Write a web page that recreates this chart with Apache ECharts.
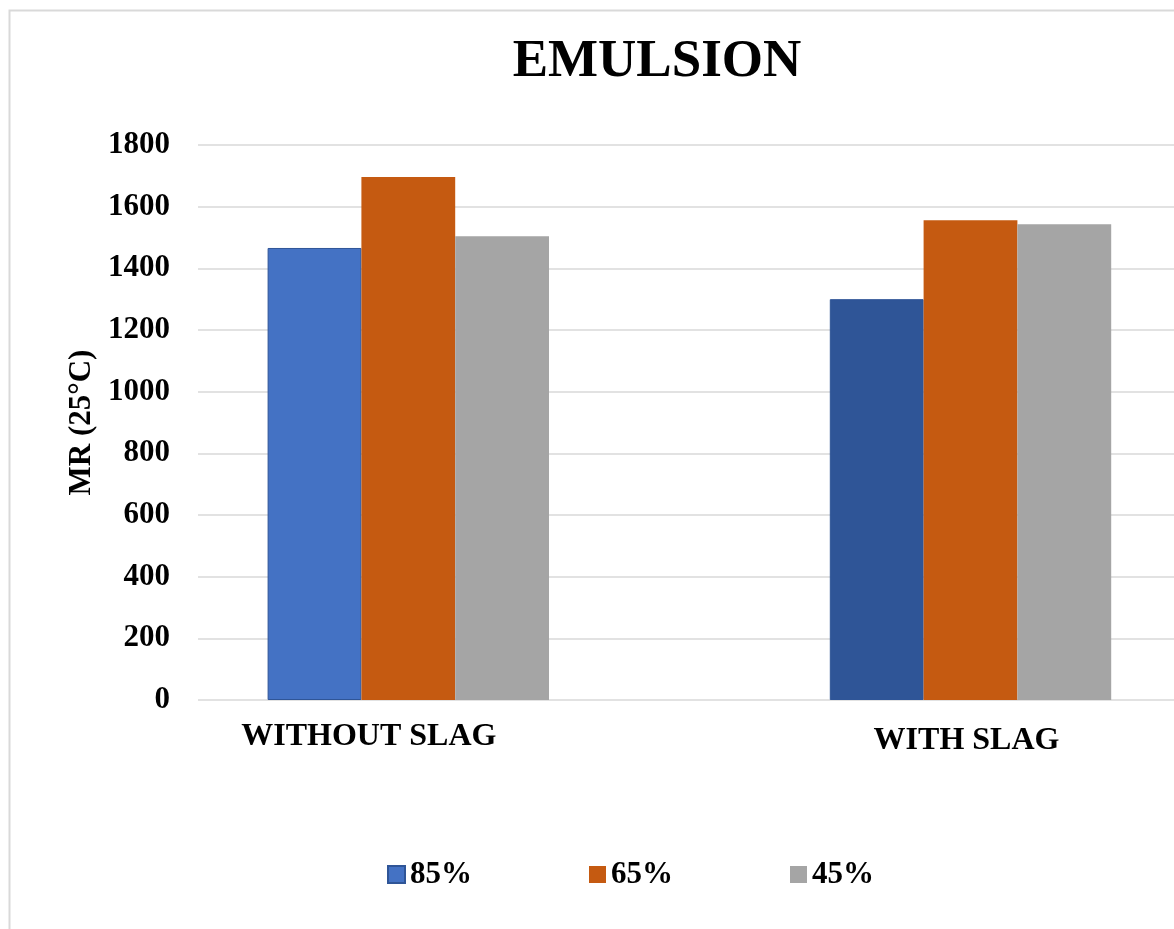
<!DOCTYPE html>
<html>
<head>
<meta charset="utf-8">
<script src="https://cdn.jsdelivr.net/npm/echarts@6/dist/echarts.min.js"></script>
<style>
  html, body { margin: 0; padding: 0; background: #fff; }
  #chart { width: 1174px; height: 929px; }
</style>
</head>
<body>
<div id="chart"></div>
<script>
// Resilient modulus at 25°C for emulsion mixes, with and without slag
const categories = ['WITHOUT SLAG', 'WITH SLAG'];
const seriesNames = ['85%', '65%', '45%'];
const values85 = [1466, 1300];
const values65 = [1696, 1556];
const values45 = [1504, 1543];
const yTicks = { min: 0, max: 1800, interval: 200 };

const FONT = '"Liberation Serif", "Times New Roman", serif';
const colors = ['#4472C4', '#C55A11', '#A5A5A5'];
const darkBlue = '#2F5597';

// per-category label nudges (text centre offset / vertical drop)
const labelShift = [
  { padding: [0, 79, 0, 0] },
  { padding: [4, 8, 0, 0] }
];

const chart = echarts.init(document.getElementById('chart'), null, { renderer: 'canvas' });

const plotTop = 145, plotBottom = 229;
const plotHeight = 929 - plotTop - plotBottom;

const option = {
  backgroundColor: '#ffffff',
  animation: false,
  title: {
    text: 'EMULSION',
    left: 652,
    top: 31,
    textAlign: 'center',
    textStyle: { fontFamily: FONT, fontWeight: 'bold', fontSize: 53, color: '#000' }
  },
  legend: {
    data: seriesNames,
    left: 382,
    top: 854,
    itemWidth: 17,
    itemHeight: 17,
    itemGap: 117,
    icon: 'rect',
    textStyle: { fontFamily: FONT, fontWeight: 'bold', fontSize: 31, color: '#000' }
  },
  graphic: [{
    type: 'rect',
    silent: true,
    z: -10,
    shape: { x: 9.5, y: 10.5, width: 1300, height: 1000 },
    style: { fill: 'none', stroke: '#d9d9d9', lineWidth: 2 }
  }],
  grid: [
    // value scale with gridlines
    { left: 198, width: 1000, top: plotTop, height: plotHeight, outerBoundsMode: 'none', containLabel: false },
    // category bands for the bar groups
    { left: 127.2, width: 1124.4, top: plotTop, height: plotHeight, outerBoundsMode: 'none', containLabel: false }
  ],
  xAxis: [
    { gridIndex: 0, type: 'value', show: false, min: 0, max: 1 },
    {
      gridIndex: 1,
      type: 'category',
      data: categories.map((c, i) => ({ value: c, textStyle: labelShift[i] })),
      axisLine: { show: false },
      axisTick: { show: false },
      axisLabel: {
        margin: 21,
        fontFamily: FONT, fontWeight: 'bold', fontSize: 32, color: '#000'
      }
    }
  ],
  yAxis: [
    {
      gridIndex: 0,
      type: 'value',
      min: yTicks.min, max: yTicks.max, interval: yTicks.interval,
      name: 'MR (25°C)',
      nameLocation: 'middle',
      nameGap: 97,
      nameTextStyle: { fontFamily: FONT, fontWeight: 'bold', fontSize: 31, color: '#000' },
      axisLine: { show: false },
      axisTick: { show: false },
      axisLabel: {
        margin: 28, fontFamily: FONT, fontWeight: 'bold', fontSize: 31, color: '#000',
        formatter: v => String(v)
      },
      splitLine: { lineStyle: { color: '#d9d9d9', width: 1.5 } }
    },
    {
      gridIndex: 1,
      type: 'value',
      min: yTicks.min, max: yTicks.max, interval: yTicks.interval,
      show: false,
      splitLine: { show: false }
    }
  ],
  series: [
    {
      name: seriesNames[0], type: 'bar', xAxisIndex: 1, yAxisIndex: 1,
      barWidth: 93.8, barGap: '0%',
      itemStyle: { color: colors[0], borderColor: darkBlue, borderWidth: 1 },
      data: values85.map((v, i) => i === 1 ? { value: v, itemStyle: { color: darkBlue } } : v)
    },
    {
      name: seriesNames[1], type: 'bar', xAxisIndex: 1, yAxisIndex: 1,
      barWidth: 93.8, barGap: '0%',
      itemStyle: { color: colors[1] },
      data: values65
    },
    {
      name: seriesNames[2], type: 'bar', xAxisIndex: 1, yAxisIndex: 1,
      barWidth: 93.8, barGap: '0%',
      itemStyle: { color: colors[2] },
      data: values45
    }
  ]
};

chart.setOption(option);
</script>
</body>
</html>
